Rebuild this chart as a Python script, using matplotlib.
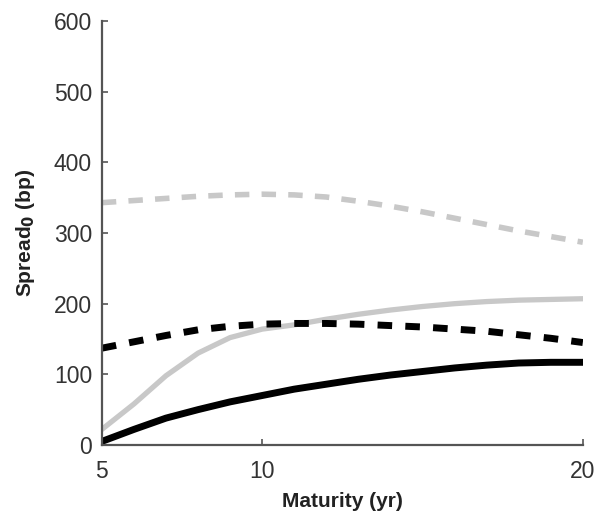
import matplotlib
matplotlib.use('Agg')
import matplotlib.pyplot as plt

# Maturity grid (years) and spreads (bp)
maturity = [5, 6, 7, 8, 9, 10, 11, 12, 13, 14, 15, 16, 17, 18, 19, 20]
black_solid = [5, 22, 38, 50, 61, 70, 79, 86, 93, 99, 104, 109, 113, 116, 117, 117]
grey_solid = [22, 58, 98, 130, 152, 164, 170, 178, 185, 191, 196, 200, 203, 205, 206, 207]
black_dashed = [137, 146, 155, 163, 168, 171, 172, 172, 171, 169, 167, 164, 161, 156, 151, 145]
grey_dashed = [343, 346, 349, 352, 354, 355, 354, 351, 345, 338, 330, 321, 312, 303, 295, 287]

x_ticks = [5, 10, 20]
y_ticks = [0, 100, 200, 300, 400, 500, 600]

plt.rcParams['font.family'] = ['Liberation Sans', 'DejaVu Sans']

fig = plt.figure(figsize=(5.99, 5.15), dpi=100)
ax = fig.add_axes([0.170, 0.136, 0.803, 0.823])

grey = '#c8c8c8'
ax.plot(maturity, grey_dashed, color=grey, lw=4.0, linestyle=(0, (2.6, 2.2)))
ax.plot(maturity, grey_solid, color=grey, lw=3.8)
ax.plot(maturity, black_dashed, color='black', lw=5.0, linestyle=(0, (2.1, 1.9)))
ax.plot(maturity, black_solid, color='black', lw=5.0)

ax.set_xlim(5, 20)
ax.set_ylim(0, 600)
ax.set_xticks(x_ticks)
ax.set_yticks(y_ticks)

for side in ['top', 'right']:
    ax.spines[side].set_visible(False)
for side in ['left', 'bottom']:
    ax.spines[side].set_color('#555555')
    ax.spines[side].set_linewidth(1.6)

ax.tick_params(direction='in', length=4, width=1.2, color='#555555',
               labelsize=16.5, labelcolor='#333333')
ax.tick_params(axis='x', pad=11)
ax.tick_params(axis='y', pad=7)

ax.set_xlabel('Maturity (yr)', fontsize=15, fontweight='bold', labelpad=6,
              color='#222222')
ax.set_ylabel('Spread$_\\mathbf{0}$ (bp)', fontsize=15, fontweight='bold', labelpad=12,
              color='#222222')

fig.savefig('out.png', dpi=100)
